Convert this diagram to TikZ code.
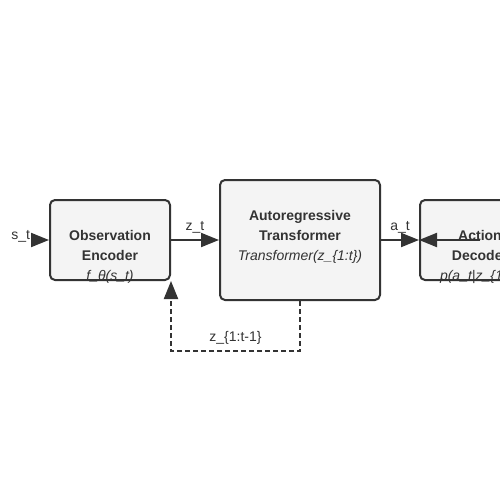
\documentclass[tikz,border=0pt]{standalone}
\usepackage{fontspec}
\setmainfont{Liberation Sans}
\usetikzlibrary{positioning,arrows.meta}
\definecolor{ink}{HTML}{333333}
\definecolor{boxfill}{HTML}{F4F4F4}

\begin{document}
\begin{tikzpicture}[x=1pt,y=-1pt,on grid,
    block/.style={draw=ink,fill=boxfill,line width=2pt,rounded corners=5pt,minimum width=120pt,minimum height=80pt,inner sep=0pt},
    blocktext/.style={text=ink,align=center,anchor=north,inner sep=0pt,font=\fontsize{14}{20}\selectfont},
    flow/.style={draw=ink,line width=2pt,-{Triangle[length=18pt,width=14pt]}},
    tag/.style={text=ink,inner sep=0pt,font=\fontsize{14}{16}\selectfont}]
            \clip (0,0) rectangle (500,500);
            % boxes
            \node[block] (enc) at (110,240) {};
            \node[block, minimum width=160pt, minimum height=120pt, right=190pt of enc] (tf) {};
            \node[block, right=180pt of tf] (dec) {};
            % connectors
            \coordinate (obs) at (31,240);
            \draw[flow] (obs) -- (enc.west)
                node[tag, pos=0, anchor=base east, yshift=1pt] (st) {s\_t};
            \draw[flow] (enc.east) -- (tf.west)
                node[tag, midway, anchor=base, yshift=10pt] (zt) {z\_t};
            \draw[flow] (tf.east) -- (dec.west)
                node[tag, midway, anchor=base, yshift=10pt] (at) {a\_t};
            \draw[flow] (dec.center) -- (dec.west);
            \draw[flow, dash pattern=on 5pt off 3pt] (tf.south) -- ++(0,50) -| (enc.south east)
                node[tag, pos=0.25, anchor=base, yshift=10pt] (hist) {z\_\{1:t-1\}};
            % box texts
            \node[blocktext] (enclbl) at ([yshift=-31pt]enc.north)
                {\textbf{Observation}\\\textbf{Encoder}\\\textit{f\_θ(s\_t)}};
            \node[blocktext] (tflbl) at ([yshift=-31pt]tf.north)
                {\textbf{Autoregressive}\\\textbf{Transformer}\\\textit{Transformer(z\_\{1:t\})}};
            \node[blocktext] (declbl) at ([yshift=-31pt]dec.north)
                {\textbf{Action}\\\textbf{Decoder}\\\textit{p(a\_t|z\_\{1:t\})}};
\end{tikzpicture}
\end{document}
